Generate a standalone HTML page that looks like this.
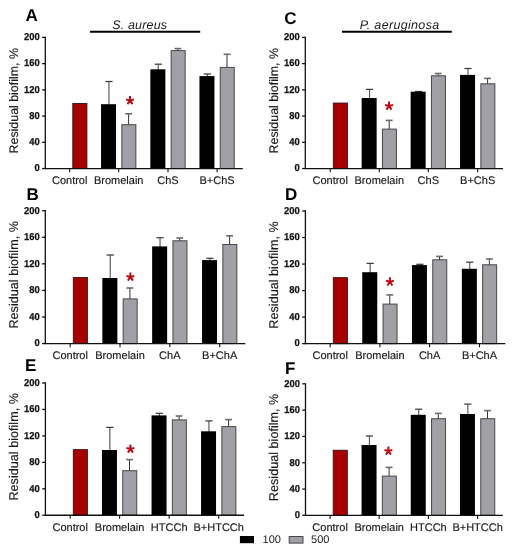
<!DOCTYPE html>
<html><head><meta charset="utf-8"><style>
html,body{margin:0;padding:0;background:#fff;}
body{width:513px;height:550px;overflow:hidden;}
svg{display:block;will-change:transform;filter:blur(0.3px);}
text{font-family:"Liberation Sans",sans-serif;fill:#1a1a1a;text-rendering:geometricPrecision;}
.tk{font-size:10px;font-weight:bold;text-anchor:end;fill:#111;stroke:#111;stroke-width:0.25px;}
.xl{font-size:11px;text-anchor:middle;stroke:#1a1a1a;stroke-width:0.15px;}
.yl{font-size:12.4px;text-anchor:middle;stroke:#1a1a1a;stroke-width:0.15px;}
.pl{font-size:17px;font-weight:bold;fill:#000;}
.ti{font-size:12.5px;font-style:italic;}
.st{font-size:19px;font-weight:bold;text-anchor:middle;fill:#a60000;}
.lg{font-size:11px;}
</style></head><body>
<svg width="513" height="550" viewBox="0 0 513 550">
<rect width="513" height="550" fill="#fff"/>
<rect x="72.8" y="103.45" width="14.1" height="65.1" fill="#a60000" stroke="#3a1010" stroke-width="0.9"/>
<line x1="108.95" y1="81.5" x2="108.95" y2="105.2" stroke="#5e5e5e" stroke-width="1.2"/>
<line x1="105.35" y1="81.5" x2="112.55" y2="81.5" stroke="#3c3c3c" stroke-width="1.25"/>
<line x1="128.6" y1="113.8" x2="128.6" y2="125.2" stroke="#333" stroke-width="1.0"/>
<line x1="125.2" y1="113.8" x2="132" y2="113.8" stroke="#6a6a6a" stroke-width="1.6"/>
<rect x="101.05" y="104.2" width="15" height="64.35" fill="#000"/>
<rect x="121.85" y="124.7" width="14" height="43.85" fill="#a0a0a6" stroke="#484848" stroke-width="1"/>
<line x1="158.25" y1="64.2" x2="158.25" y2="70.3" stroke="#5e5e5e" stroke-width="1.2"/>
<line x1="154.65" y1="64.2" x2="161.85" y2="64.2" stroke="#3c3c3c" stroke-width="1.25"/>
<line x1="177.9" y1="48.6" x2="177.9" y2="51.1" stroke="#333" stroke-width="1.0"/>
<line x1="174.5" y1="48.6" x2="181.3" y2="48.6" stroke="#6a6a6a" stroke-width="1.6"/>
<rect x="150.35" y="69.3" width="15" height="99.25" fill="#000"/>
<rect x="171.15" y="50.6" width="14" height="117.95" fill="#a0a0a6" stroke="#484848" stroke-width="1"/>
<line x1="207.35" y1="74" x2="207.35" y2="77.1" stroke="#5e5e5e" stroke-width="1.2"/>
<line x1="203.75" y1="74" x2="210.95" y2="74" stroke="#3c3c3c" stroke-width="1.25"/>
<line x1="227" y1="54.3" x2="227" y2="67.9" stroke="#333" stroke-width="1.0"/>
<line x1="223.6" y1="54.3" x2="230.4" y2="54.3" stroke="#6a6a6a" stroke-width="1.6"/>
<rect x="199.45" y="76.1" width="15" height="92.45" fill="#000"/>
<rect x="220.25" y="67.4" width="14" height="101.15" fill="#a0a0a6" stroke="#484848" stroke-width="1"/>
<path d="M45.3 36.75V168.55H242.8" fill="none" stroke="#111" stroke-width="1.3"/>
<line x1="42.1" y1="168.55" x2="45.3" y2="168.55" stroke="#111" stroke-width="1.3"/>
<text transform="translate(39.7 171.35) scale(0.94 1)" class="tk">0</text>
<line x1="42.1" y1="142.32" x2="45.3" y2="142.32" stroke="#111" stroke-width="1.3"/>
<text transform="translate(39.7 145.12) scale(0.94 1)" class="tk">40</text>
<line x1="42.1" y1="116.09" x2="45.3" y2="116.09" stroke="#111" stroke-width="1.3"/>
<text transform="translate(39.7 118.89) scale(0.94 1)" class="tk">80</text>
<line x1="42.1" y1="89.86" x2="45.3" y2="89.86" stroke="#111" stroke-width="1.3"/>
<text transform="translate(39.7 92.66) scale(0.94 1)" class="tk">120</text>
<line x1="42.1" y1="63.63" x2="45.3" y2="63.63" stroke="#111" stroke-width="1.3"/>
<text transform="translate(39.7 66.43) scale(0.94 1)" class="tk">160</text>
<line x1="42.1" y1="37.4" x2="45.3" y2="37.4" stroke="#111" stroke-width="1.3"/>
<text transform="translate(39.7 40.2) scale(0.94 1)" class="tk">200</text>
<line x1="69.7" y1="168.55" x2="69.7" y2="172.15" stroke="#111" stroke-width="1.1"/>
<text x="69.7" y="183.8" class="xl">Control</text>
<line x1="118.7" y1="168.55" x2="118.7" y2="172.15" stroke="#111" stroke-width="1.1"/>
<text x="118.7" y="183.8" class="xl">Bromelain</text>
<line x1="168" y1="168.55" x2="168" y2="172.15" stroke="#111" stroke-width="1.1"/>
<text x="168" y="183.8" class="xl">ChS</text>
<line x1="217.1" y1="168.55" x2="217.1" y2="172.15" stroke="#111" stroke-width="1.1"/>
<text x="217.1" y="183.8" class="xl">B+ChS</text>
<path d="M130 100.4L130 95.9M130 100.4L133.95 99.49M130 100.4L132.52 104.13M130 100.4L127.48 104.13M130 100.4L126.05 99.49" stroke="#bd0a14" stroke-width="1.95" fill="none"/>
<text x="25.6" y="21.3" class="pl">A</text>
<text transform="translate(18.1 100.75) rotate(-90)" class="yl" style="font-size:12.4px">Residual biofilm, %</text>
<rect x="333.3" y="103.05" width="14.1" height="65.5" fill="#a60000" stroke="#3a1010" stroke-width="0.9"/>
<line x1="369.55" y1="89.4" x2="369.55" y2="99" stroke="#5e5e5e" stroke-width="1.2"/>
<line x1="365.95" y1="89.4" x2="373.15" y2="89.4" stroke="#3c3c3c" stroke-width="1.25"/>
<line x1="389.2" y1="120.4" x2="389.2" y2="129.6" stroke="#333" stroke-width="1.0"/>
<line x1="385.8" y1="120.4" x2="392.6" y2="120.4" stroke="#6a6a6a" stroke-width="1.6"/>
<rect x="361.65" y="98" width="15" height="70.55" fill="#000"/>
<rect x="382.45" y="129.1" width="14" height="39.45" fill="#a0a0a6" stroke="#484848" stroke-width="1"/>
<line x1="418.55" y1="91.5" x2="418.55" y2="92.7" stroke="#5e5e5e" stroke-width="1.2"/>
<line x1="414.95" y1="91.5" x2="422.15" y2="91.5" stroke="#3c3c3c" stroke-width="1.25"/>
<line x1="438.2" y1="73.5" x2="438.2" y2="76.3" stroke="#333" stroke-width="1.0"/>
<line x1="434.8" y1="73.5" x2="441.6" y2="73.5" stroke="#6a6a6a" stroke-width="1.6"/>
<rect x="410.65" y="91.7" width="15" height="76.85" fill="#000"/>
<rect x="431.45" y="75.8" width="14" height="92.75" fill="#a0a0a6" stroke="#484848" stroke-width="1"/>
<line x1="467.95" y1="68.5" x2="467.95" y2="75.9" stroke="#5e5e5e" stroke-width="1.2"/>
<line x1="464.35" y1="68.5" x2="471.55" y2="68.5" stroke="#3c3c3c" stroke-width="1.25"/>
<line x1="487.6" y1="78.4" x2="487.6" y2="84.3" stroke="#333" stroke-width="1.0"/>
<line x1="484.2" y1="78.4" x2="491" y2="78.4" stroke="#6a6a6a" stroke-width="1.6"/>
<rect x="460.05" y="74.9" width="15" height="93.65" fill="#000"/>
<rect x="480.85" y="83.8" width="14" height="84.75" fill="#a0a0a6" stroke="#484848" stroke-width="1"/>
<path d="M305.3 36.75V168.55H503" fill="none" stroke="#111" stroke-width="1.3"/>
<line x1="302.1" y1="168.55" x2="305.3" y2="168.55" stroke="#111" stroke-width="1.3"/>
<text transform="translate(299.7 171.35) scale(0.94 1)" class="tk">0</text>
<line x1="302.1" y1="142.32" x2="305.3" y2="142.32" stroke="#111" stroke-width="1.3"/>
<text transform="translate(299.7 145.12) scale(0.94 1)" class="tk">40</text>
<line x1="302.1" y1="116.09" x2="305.3" y2="116.09" stroke="#111" stroke-width="1.3"/>
<text transform="translate(299.7 118.89) scale(0.94 1)" class="tk">80</text>
<line x1="302.1" y1="89.86" x2="305.3" y2="89.86" stroke="#111" stroke-width="1.3"/>
<text transform="translate(299.7 92.66) scale(0.94 1)" class="tk">120</text>
<line x1="302.1" y1="63.63" x2="305.3" y2="63.63" stroke="#111" stroke-width="1.3"/>
<text transform="translate(299.7 66.43) scale(0.94 1)" class="tk">160</text>
<line x1="302.1" y1="37.4" x2="305.3" y2="37.4" stroke="#111" stroke-width="1.3"/>
<text transform="translate(299.7 40.2) scale(0.94 1)" class="tk">200</text>
<line x1="330.2" y1="168.55" x2="330.2" y2="172.15" stroke="#111" stroke-width="1.1"/>
<text x="330.2" y="183.9" class="xl">Control</text>
<line x1="379.3" y1="168.55" x2="379.3" y2="172.15" stroke="#111" stroke-width="1.1"/>
<text x="379.3" y="183.9" class="xl">Bromelain</text>
<line x1="428.3" y1="168.55" x2="428.3" y2="172.15" stroke="#111" stroke-width="1.1"/>
<text x="428.3" y="183.9" class="xl">ChS</text>
<line x1="477.7" y1="168.55" x2="477.7" y2="172.15" stroke="#111" stroke-width="1.1"/>
<text x="477.7" y="183.9" class="xl">B+ChS</text>
<path d="M389 105.9L389 101.4M389 105.9L392.95 104.99M389 105.9L391.52 109.63M389 105.9L386.48 109.63M389 105.9L385.05 104.99" stroke="#bd0a14" stroke-width="1.95" fill="none"/>
<text x="284.2" y="23.5" class="pl">C</text>
<text transform="translate(278.1 100.75) rotate(-90)" class="yl" style="font-size:12.4px">Residual biofilm, %</text>
<rect x="73.3" y="277.45" width="14.1" height="66.1" fill="#a60000" stroke="#3a1010" stroke-width="0.9"/>
<line x1="110.25" y1="255" x2="110.25" y2="279" stroke="#5e5e5e" stroke-width="1.2"/>
<line x1="106.65" y1="255" x2="113.85" y2="255" stroke="#3c3c3c" stroke-width="1.25"/>
<line x1="129.9" y1="288" x2="129.9" y2="299.4" stroke="#333" stroke-width="1.0"/>
<line x1="126.5" y1="288" x2="133.3" y2="288" stroke="#6a6a6a" stroke-width="1.6"/>
<rect x="102.35" y="278" width="15" height="65.55" fill="#000"/>
<rect x="123.15" y="298.9" width="14" height="44.65" fill="#a0a0a6" stroke="#484848" stroke-width="1"/>
<line x1="160.05" y1="237.7" x2="160.05" y2="247.4" stroke="#5e5e5e" stroke-width="1.2"/>
<line x1="156.45" y1="237.7" x2="163.65" y2="237.7" stroke="#3c3c3c" stroke-width="1.25"/>
<line x1="179.7" y1="238" x2="179.7" y2="241.3" stroke="#333" stroke-width="1.0"/>
<line x1="176.3" y1="238" x2="183.1" y2="238" stroke="#6a6a6a" stroke-width="1.6"/>
<rect x="152.15" y="246.4" width="15" height="97.15" fill="#000"/>
<rect x="172.95" y="240.8" width="14" height="102.75" fill="#a0a0a6" stroke="#484848" stroke-width="1"/>
<line x1="209.95" y1="258.3" x2="209.95" y2="261.1" stroke="#5e5e5e" stroke-width="1.2"/>
<line x1="206.35" y1="258.3" x2="213.55" y2="258.3" stroke="#3c3c3c" stroke-width="1.25"/>
<line x1="229.6" y1="235.8" x2="229.6" y2="245" stroke="#333" stroke-width="1.0"/>
<line x1="226.2" y1="235.8" x2="233" y2="235.8" stroke="#6a6a6a" stroke-width="1.6"/>
<rect x="202.05" y="260.1" width="15" height="83.45" fill="#000"/>
<rect x="222.85" y="244.5" width="14" height="99.05" fill="#a0a0a6" stroke="#484848" stroke-width="1"/>
<path d="M45.3 210.05V343.55H245.3" fill="none" stroke="#111" stroke-width="1.3"/>
<line x1="42.1" y1="343.55" x2="45.3" y2="343.55" stroke="#111" stroke-width="1.3"/>
<text transform="translate(39.7 346.35) scale(0.94 1)" class="tk">0</text>
<line x1="42.1" y1="316.98" x2="45.3" y2="316.98" stroke="#111" stroke-width="1.3"/>
<text transform="translate(39.7 319.78) scale(0.94 1)" class="tk">40</text>
<line x1="42.1" y1="290.41" x2="45.3" y2="290.41" stroke="#111" stroke-width="1.3"/>
<text transform="translate(39.7 293.21) scale(0.94 1)" class="tk">80</text>
<line x1="42.1" y1="263.84" x2="45.3" y2="263.84" stroke="#111" stroke-width="1.3"/>
<text transform="translate(39.7 266.64) scale(0.94 1)" class="tk">120</text>
<line x1="42.1" y1="237.27" x2="45.3" y2="237.27" stroke="#111" stroke-width="1.3"/>
<text transform="translate(39.7 240.07) scale(0.94 1)" class="tk">160</text>
<line x1="42.1" y1="210.7" x2="45.3" y2="210.7" stroke="#111" stroke-width="1.3"/>
<text transform="translate(39.7 213.5) scale(0.94 1)" class="tk">200</text>
<line x1="70.2" y1="343.55" x2="70.2" y2="347.15" stroke="#111" stroke-width="1.1"/>
<text x="70.2" y="358.8" class="xl">Control</text>
<line x1="120" y1="343.55" x2="120" y2="347.15" stroke="#111" stroke-width="1.1"/>
<text x="120" y="358.8" class="xl">Bromelain</text>
<line x1="169.8" y1="343.55" x2="169.8" y2="347.15" stroke="#111" stroke-width="1.1"/>
<text x="169.8" y="358.8" class="xl">ChA</text>
<line x1="219.7" y1="343.55" x2="219.7" y2="347.15" stroke="#111" stroke-width="1.1"/>
<text x="219.7" y="358.8" class="xl">B+ChA</text>
<path d="M130.4 276.9L130.4 272.4M130.4 276.9L134.35 275.99M130.4 276.9L132.92 280.63M130.4 276.9L127.88 280.63M130.4 276.9L126.45 275.99" stroke="#bd0a14" stroke-width="1.95" fill="none"/>
<text x="26.5" y="200.2" class="pl">B</text>
<text transform="translate(18.1 274.8) rotate(-90)" class="yl" style="font-size:12.65px">Residual biofilm, %</text>
<rect x="333.3" y="277.65" width="14.1" height="66" fill="#a60000" stroke="#3a1010" stroke-width="0.9"/>
<line x1="370.15" y1="263.4" x2="370.15" y2="273.2" stroke="#5e5e5e" stroke-width="1.2"/>
<line x1="366.55" y1="263.4" x2="373.75" y2="263.4" stroke="#3c3c3c" stroke-width="1.25"/>
<line x1="389.8" y1="294.9" x2="389.8" y2="304.6" stroke="#333" stroke-width="1.0"/>
<line x1="386.4" y1="294.9" x2="393.2" y2="294.9" stroke="#6a6a6a" stroke-width="1.6"/>
<rect x="362.25" y="272.2" width="15" height="71.45" fill="#000"/>
<rect x="383.05" y="304.1" width="14" height="39.55" fill="#a0a0a6" stroke="#484848" stroke-width="1"/>
<line x1="419.85" y1="264.3" x2="419.85" y2="266.1" stroke="#5e5e5e" stroke-width="1.2"/>
<line x1="416.25" y1="264.3" x2="423.45" y2="264.3" stroke="#3c3c3c" stroke-width="1.25"/>
<line x1="439.5" y1="256.4" x2="439.5" y2="260.3" stroke="#333" stroke-width="1.0"/>
<line x1="436.1" y1="256.4" x2="442.9" y2="256.4" stroke="#6a6a6a" stroke-width="1.6"/>
<rect x="411.95" y="265.1" width="15" height="78.55" fill="#000"/>
<rect x="432.75" y="259.8" width="14" height="83.85" fill="#a0a0a6" stroke="#484848" stroke-width="1"/>
<line x1="469.75" y1="262.2" x2="469.75" y2="269.8" stroke="#5e5e5e" stroke-width="1.2"/>
<line x1="466.15" y1="262.2" x2="473.35" y2="262.2" stroke="#3c3c3c" stroke-width="1.25"/>
<line x1="489.4" y1="259" x2="489.4" y2="265.3" stroke="#333" stroke-width="1.0"/>
<line x1="486" y1="259" x2="492.8" y2="259" stroke="#6a6a6a" stroke-width="1.6"/>
<rect x="461.85" y="268.8" width="15" height="74.85" fill="#000"/>
<rect x="482.65" y="264.8" width="14" height="78.85" fill="#a0a0a6" stroke="#484848" stroke-width="1"/>
<path d="M305.4 210.35V343.65H505.3" fill="none" stroke="#111" stroke-width="1.3"/>
<line x1="302.2" y1="343.65" x2="305.4" y2="343.65" stroke="#111" stroke-width="1.3"/>
<text transform="translate(299.8 346.45) scale(0.94 1)" class="tk">0</text>
<line x1="302.2" y1="317.12" x2="305.4" y2="317.12" stroke="#111" stroke-width="1.3"/>
<text transform="translate(299.8 319.92) scale(0.94 1)" class="tk">40</text>
<line x1="302.2" y1="290.59" x2="305.4" y2="290.59" stroke="#111" stroke-width="1.3"/>
<text transform="translate(299.8 293.39) scale(0.94 1)" class="tk">80</text>
<line x1="302.2" y1="264.06" x2="305.4" y2="264.06" stroke="#111" stroke-width="1.3"/>
<text transform="translate(299.8 266.86) scale(0.94 1)" class="tk">120</text>
<line x1="302.2" y1="237.53" x2="305.4" y2="237.53" stroke="#111" stroke-width="1.3"/>
<text transform="translate(299.8 240.33) scale(0.94 1)" class="tk">160</text>
<line x1="302.2" y1="211" x2="305.4" y2="211" stroke="#111" stroke-width="1.3"/>
<text transform="translate(299.8 213.8) scale(0.94 1)" class="tk">200</text>
<line x1="330.2" y1="343.65" x2="330.2" y2="347.25" stroke="#111" stroke-width="1.1"/>
<text x="330.2" y="358.8" class="xl">Control</text>
<line x1="379.9" y1="343.65" x2="379.9" y2="347.25" stroke="#111" stroke-width="1.1"/>
<text x="379.9" y="358.8" class="xl">Bromelain</text>
<line x1="429.6" y1="343.65" x2="429.6" y2="347.25" stroke="#111" stroke-width="1.1"/>
<text x="429.6" y="358.8" class="xl">ChA</text>
<line x1="479.5" y1="343.65" x2="479.5" y2="347.25" stroke="#111" stroke-width="1.1"/>
<text x="479.5" y="358.8" class="xl">B+ChA</text>
<path d="M389.9 281.7L389.9 277.2M389.9 281.7L393.85 280.79M389.9 281.7L392.42 285.43M389.9 281.7L387.38 285.43M389.9 281.7L385.95 280.79" stroke="#bd0a14" stroke-width="1.95" fill="none"/>
<text x="284.9" y="200.2" class="pl">D</text>
<text transform="translate(278.1 274.9) rotate(-90)" class="yl" style="font-size:12.65px">Residual biofilm, %</text>
<rect x="73.3" y="449.65" width="14.1" height="65.6" fill="#a60000" stroke="#3a1010" stroke-width="0.9"/>
<line x1="109.85" y1="427.4" x2="109.85" y2="451" stroke="#5e5e5e" stroke-width="1.2"/>
<line x1="106.25" y1="427.4" x2="113.45" y2="427.4" stroke="#3c3c3c" stroke-width="1.25"/>
<line x1="129.5" y1="459.6" x2="129.5" y2="471.2" stroke="#333" stroke-width="1.0"/>
<line x1="126.1" y1="459.6" x2="132.9" y2="459.6" stroke="#6a6a6a" stroke-width="1.6"/>
<rect x="101.95" y="450" width="15" height="65.25" fill="#000"/>
<rect x="122.75" y="470.7" width="14" height="44.55" fill="#a0a0a6" stroke="#484848" stroke-width="1"/>
<line x1="159.45" y1="413.3" x2="159.45" y2="416.4" stroke="#5e5e5e" stroke-width="1.2"/>
<line x1="155.85" y1="413.3" x2="163.05" y2="413.3" stroke="#3c3c3c" stroke-width="1.25"/>
<line x1="179.1" y1="416" x2="179.1" y2="420.4" stroke="#333" stroke-width="1.0"/>
<line x1="175.7" y1="416" x2="182.5" y2="416" stroke="#6a6a6a" stroke-width="1.6"/>
<rect x="151.55" y="415.4" width="15" height="99.85" fill="#000"/>
<rect x="172.35" y="419.9" width="14" height="95.35" fill="#a0a0a6" stroke="#484848" stroke-width="1"/>
<line x1="208.95" y1="420.9" x2="208.95" y2="432.3" stroke="#5e5e5e" stroke-width="1.2"/>
<line x1="205.35" y1="420.9" x2="212.55" y2="420.9" stroke="#3c3c3c" stroke-width="1.25"/>
<line x1="228.6" y1="419.6" x2="228.6" y2="427.1" stroke="#333" stroke-width="1.0"/>
<line x1="225.2" y1="419.6" x2="232" y2="419.6" stroke="#6a6a6a" stroke-width="1.6"/>
<rect x="201.05" y="431.3" width="15" height="83.95" fill="#000"/>
<rect x="221.85" y="426.6" width="14" height="88.65" fill="#a0a0a6" stroke="#484848" stroke-width="1"/>
<path d="M45.4 382.35V515.25H244" fill="none" stroke="#111" stroke-width="1.3"/>
<line x1="42.2" y1="515.25" x2="45.4" y2="515.25" stroke="#111" stroke-width="1.3"/>
<text transform="translate(39.8 518.05) scale(0.94 1)" class="tk">0</text>
<line x1="42.2" y1="488.8" x2="45.4" y2="488.8" stroke="#111" stroke-width="1.3"/>
<text transform="translate(39.8 491.6) scale(0.94 1)" class="tk">40</text>
<line x1="42.2" y1="462.35" x2="45.4" y2="462.35" stroke="#111" stroke-width="1.3"/>
<text transform="translate(39.8 465.15) scale(0.94 1)" class="tk">80</text>
<line x1="42.2" y1="435.9" x2="45.4" y2="435.9" stroke="#111" stroke-width="1.3"/>
<text transform="translate(39.8 438.7) scale(0.94 1)" class="tk">120</text>
<line x1="42.2" y1="409.45" x2="45.4" y2="409.45" stroke="#111" stroke-width="1.3"/>
<text transform="translate(39.8 412.25) scale(0.94 1)" class="tk">160</text>
<line x1="42.2" y1="383" x2="45.4" y2="383" stroke="#111" stroke-width="1.3"/>
<text transform="translate(39.8 385.8) scale(0.94 1)" class="tk">200</text>
<line x1="70.2" y1="515.25" x2="70.2" y2="518.85" stroke="#111" stroke-width="1.1"/>
<text x="70.2" y="530.7" class="xl">Control</text>
<line x1="119.6" y1="515.25" x2="119.6" y2="518.85" stroke="#111" stroke-width="1.1"/>
<text x="119.6" y="530.7" class="xl">Bromelain</text>
<line x1="169.2" y1="515.25" x2="169.2" y2="518.85" stroke="#111" stroke-width="1.1"/>
<text x="169.2" y="530.7" class="xl">HTCCh</text>
<line x1="218.7" y1="515.25" x2="218.7" y2="518.85" stroke="#111" stroke-width="1.1"/>
<text x="218.7" y="530.7" class="xl">B+HTCCh</text>
<path d="M130.4 448.9L130.4 444.4M130.4 448.9L134.35 447.99M130.4 448.9L132.92 452.63M130.4 448.9L127.88 452.63M130.4 448.9L126.45 447.99" stroke="#bd0a14" stroke-width="1.95" fill="none"/>
<text x="25" y="370.8" class="pl">E</text>
<text transform="translate(18.1 446.8) rotate(-90)" class="yl" style="font-size:12.65px">Residual biofilm, %</text>
<rect x="333.2" y="450.25" width="14.1" height="65.1" fill="#a60000" stroke="#3a1010" stroke-width="0.9"/>
<line x1="369.45" y1="436" x2="369.45" y2="446" stroke="#5e5e5e" stroke-width="1.2"/>
<line x1="365.85" y1="436" x2="373.05" y2="436" stroke="#3c3c3c" stroke-width="1.25"/>
<line x1="389.1" y1="467.4" x2="389.1" y2="476.6" stroke="#333" stroke-width="1.0"/>
<line x1="385.7" y1="467.4" x2="392.5" y2="467.4" stroke="#6a6a6a" stroke-width="1.6"/>
<rect x="361.55" y="445" width="15" height="70.35" fill="#000"/>
<rect x="382.35" y="476.1" width="14" height="39.25" fill="#a0a0a6" stroke="#484848" stroke-width="1"/>
<line x1="418.65" y1="409.2" x2="418.65" y2="415.8" stroke="#5e5e5e" stroke-width="1.2"/>
<line x1="415.05" y1="409.2" x2="422.25" y2="409.2" stroke="#3c3c3c" stroke-width="1.25"/>
<line x1="438.3" y1="413.4" x2="438.3" y2="419.2" stroke="#333" stroke-width="1.0"/>
<line x1="434.9" y1="413.4" x2="441.7" y2="413.4" stroke="#6a6a6a" stroke-width="1.6"/>
<rect x="410.75" y="414.8" width="15" height="100.55" fill="#000"/>
<rect x="431.55" y="418.7" width="14" height="96.65" fill="#a0a0a6" stroke="#484848" stroke-width="1"/>
<line x1="467.85" y1="404.1" x2="467.85" y2="415" stroke="#5e5e5e" stroke-width="1.2"/>
<line x1="464.25" y1="404.1" x2="471.45" y2="404.1" stroke="#3c3c3c" stroke-width="1.25"/>
<line x1="487.5" y1="410.6" x2="487.5" y2="419.2" stroke="#333" stroke-width="1.0"/>
<line x1="484.1" y1="410.6" x2="490.9" y2="410.6" stroke="#6a6a6a" stroke-width="1.6"/>
<rect x="459.95" y="414" width="15" height="101.35" fill="#000"/>
<rect x="480.75" y="418.7" width="14" height="96.65" fill="#a0a0a6" stroke="#484848" stroke-width="1"/>
<path d="M305.5 383.15V515.35H502.8" fill="none" stroke="#111" stroke-width="1.3"/>
<line x1="302.3" y1="515.35" x2="305.5" y2="515.35" stroke="#111" stroke-width="1.3"/>
<text transform="translate(299.9 518.15) scale(0.94 1)" class="tk">0</text>
<line x1="302.3" y1="489.04" x2="305.5" y2="489.04" stroke="#111" stroke-width="1.3"/>
<text transform="translate(299.9 491.84) scale(0.94 1)" class="tk">40</text>
<line x1="302.3" y1="462.73" x2="305.5" y2="462.73" stroke="#111" stroke-width="1.3"/>
<text transform="translate(299.9 465.53) scale(0.94 1)" class="tk">80</text>
<line x1="302.3" y1="436.42" x2="305.5" y2="436.42" stroke="#111" stroke-width="1.3"/>
<text transform="translate(299.9 439.22) scale(0.94 1)" class="tk">120</text>
<line x1="302.3" y1="410.11" x2="305.5" y2="410.11" stroke="#111" stroke-width="1.3"/>
<text transform="translate(299.9 412.91) scale(0.94 1)" class="tk">160</text>
<line x1="302.3" y1="383.8" x2="305.5" y2="383.8" stroke="#111" stroke-width="1.3"/>
<text transform="translate(299.9 386.6) scale(0.94 1)" class="tk">200</text>
<line x1="330.1" y1="515.35" x2="330.1" y2="518.95" stroke="#111" stroke-width="1.1"/>
<text x="330.1" y="531.1" class="xl">Control</text>
<line x1="379.2" y1="515.35" x2="379.2" y2="518.95" stroke="#111" stroke-width="1.1"/>
<text x="379.2" y="531.1" class="xl">Bromelain</text>
<line x1="428.4" y1="515.35" x2="428.4" y2="518.95" stroke="#111" stroke-width="1.1"/>
<text x="428.4" y="531.1" class="xl">HTCCh</text>
<line x1="477.6" y1="515.35" x2="477.6" y2="518.95" stroke="#111" stroke-width="1.1"/>
<text x="477.6" y="531.1" class="xl">B+HTCCh</text>
<path d="M388.4 450.9L388.4 446.4M388.4 450.9L392.35 449.99M388.4 450.9L390.92 454.63M388.4 450.9L385.88 454.63M388.4 450.9L384.45 449.99" stroke="#bd0a14" stroke-width="1.95" fill="none"/>
<text x="284.9" y="373.7" class="pl">F</text>
<text transform="translate(278.1 447.4) rotate(-90)" class="yl" style="font-size:12.65px">Residual biofilm, %</text>

<line x1="90" y1="31.8" x2="200.2" y2="31.8" stroke="#000" stroke-width="2.1"/>
<text x="112.2" y="29.1" class="ti" letter-spacing="0.17">S. aureus</text>
<line x1="342" y1="31.8" x2="451.8" y2="31.8" stroke="#000" stroke-width="2.1"/>
<text x="359.7" y="28.7" class="ti" letter-spacing="0.33">P. aeruginosa</text>


<rect x="239.9" y="536" width="14.1" height="7.2" fill="#000"/>
<text x="262.6" y="543.2" class="lg">100</text>
<rect x="289.2" y="536.5" width="13.8" height="6.6" fill="#a0a0a6" stroke="#484848" stroke-width="1"/>
<text x="311.1" y="543.2" class="lg">500</text>

</svg>
</body></html>
